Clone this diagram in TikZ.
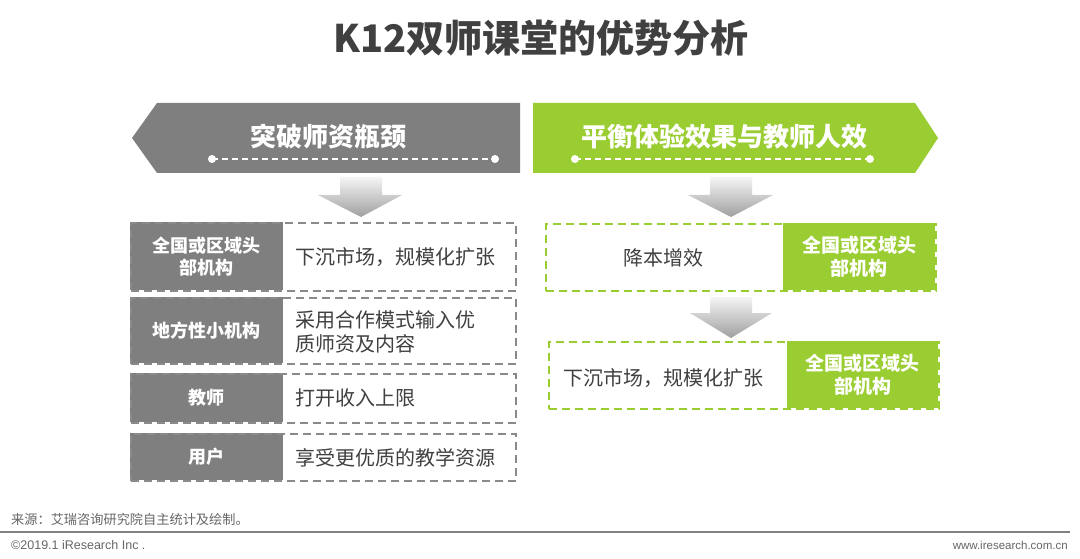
\documentclass[tikz,border=0pt]{standalone}
\usepackage{fontspec}
\setmainfont{Liberation Sans}
\newfontfamily\cjk{Noto Sans CJK SC}
\definecolor{bgray}{HTML}{7F7F7F}
\definecolor{lgreen}{HTML}{9ACD32}
\definecolor{txtc}{HTML}{404040}
\definecolor{dgray}{HTML}{8A8A8A}
\definecolor{footc}{HTML}{666666}
\tikzset{
  rowgray/.style={draw=dgray, line width=1.6pt, dash pattern=on 8pt off 5pt, inner sep=0pt, anchor=north west},
  rowgreen/.style={draw=lgreen, line width=1.6pt, dash pattern=on 8pt off 5pt, inner sep=0pt, anchor=north west},
  lblgray/.style={fill=bgray, text=white, font=\cjk\bfseries\fontsize{18}{22}\selectfont, align=center, inner sep=0pt, anchor=north west},
  lblgreen/.style={fill=lgreen, text=white, font=\cjk\bfseries\fontsize{19}{23}\selectfont, align=center, inner sep=0pt, anchor=north west},
  bodytxt/.style={text=txtc, font=\cjk\fontsize{20}{24}\selectfont, align=left, inner sep=0pt},
  bannertxt/.style={text=white, font=\cjk\bfseries\fontsize{26}{30}\selectfont, inner sep=0pt},
  downarrow/.style={top color=gray!8, bottom color=gray!75, draw=none},
  bdash/.style={white, line width=1.3pt, dash pattern=on 6pt off 4pt},
}
\begin{document}
\begin{tikzpicture}[x=1pt,y=-1pt]
\useasboundingbox[fill=white] (0,0) rectangle (1080,559);

% title
\node[text=txtc, font=\cjk\bfseries\fontsize{38}{42}\selectfont, inner sep=0pt] (title) at (541,38) {K12双师课堂的优势分析};

% left banner
\fill[bgray] (132,138) -- (157,103) -- (520,103) -- (520,173) -- (157,173) -- cycle;
\node[bannertxt] (lb) at (328,137) {突破师资瓶颈};
\coordinate (lda) at (212,159);
\coordinate (ldb) at (495,159);
\draw[bdash] (lda) -- (ldb);
\fill[white] (lda) circle (4);
\fill[white] (ldb) circle (4);

% right banner
\fill[lgreen] (533,103) -- (915,103) -- (938,138) -- (915,173) -- (533,173) -- cycle;
\node[bannertxt] (rb) at (724,137) {平衡体验效果与教师人效};
\coordinate (rda) at (575,159);
\coordinate (rdb) at (870,159);
\draw[bdash] (rda) -- (rdb);
\fill[white] (rda) circle (4);
\fill[white] (rdb) circle (4);

% down arrows
\shade[downarrow] (340,177) -- (382,177) -- (382,195) -- (402,195) -- (361,217) -- (318,195) -- (340,195) -- cycle;
\shade[downarrow] (710,177) -- (752,177) -- (752,195) -- (773,195) -- (731,217) -- (688,195) -- (710,195) -- cycle;
\shade[downarrow] (710,297) -- (752,297) -- (752,313) -- (772,313) -- (731,338) -- (690,313) -- (710,313) -- cycle;

% left rows
\node[lblgray, minimum width=153pt, minimum height=68pt] (l1) at (130,222) {全国或区域头\\部机构};
\node[rowgray, minimum width=385pt, minimum height=68pt] (r1) at (130,222) {};
\node[bodytxt, anchor=west] (t1) at (295,257) {下沉市场，规模化扩张};

\node[lblgray, minimum width=153pt, minimum height=66pt] (l2) at (130,297) {地方性小机构};
\node[rowgray, minimum width=385pt, minimum height=66pt] (r2) at (130,297) {};
\node[bodytxt, anchor=west] (t2) at (295,332) {采用合作模式输入优\\质师资及内容};

\node[lblgray, minimum width=153pt, minimum height=49pt] (l3) at (130,373) {教师};
\node[rowgray, minimum width=385pt, minimum height=49pt] (r3) at (130,373) {};
\node[bodytxt, anchor=west] (t3) at (295,398) {打开收入上限};

\node[lblgray, minimum width=153pt, minimum height=47pt] (l4) at (130,433) {用户};
\node[rowgray, minimum width=385pt, minimum height=47pt] (r4) at (130,433) {};
\node[bodytxt, anchor=west] (t4) at (295,458) {享受更优质的教学资源};

% right rows
\node[rowgreen, minimum width=390pt, minimum height=67pt] (gr1) at (545,223) {};
\node[lblgreen, minimum width=152pt, minimum height=67pt] (gl1) at (783,223) {全国或区域头\\部机构};
\node[bodytxt] (gt1) at (663,258) {降本增效};

\node[rowgreen, minimum width=390pt, minimum height=67pt] (gr2) at (548,341) {};
\node[lblgreen, minimum width=151pt, minimum height=67pt] (gl2) at (787,341) {全国或区域头\\部机构};
\node[bodytxt, anchor=west] (gt2) at (563,378) {下沉市场，规模化扩张};

% footer
\node[text=footc, font=\cjk\fontsize{13.2}{15}\selectfont, anchor=west, inner sep=0pt] (src) at (11,519) {来源：艾瑞咨询研究院自主统计及绘制。};
\coordinate (fa) at (0,532);
\coordinate (fb) at (1070,532);
\draw[gray, line width=1.5pt] (fa) -- (fb);
\node[text=footc, font=\fontsize{12.5}{14}\selectfont, anchor=west, inner sep=0pt] (copy) at (11,545) {©2019.1 iResearch Inc .};
\node[text=footc, font=\fontsize{11.5}{13}\selectfont, anchor=east, inner sep=0pt] (web) at (1068,545) {www.iresearch.com.cn};
\end{tikzpicture}
\end{document}
